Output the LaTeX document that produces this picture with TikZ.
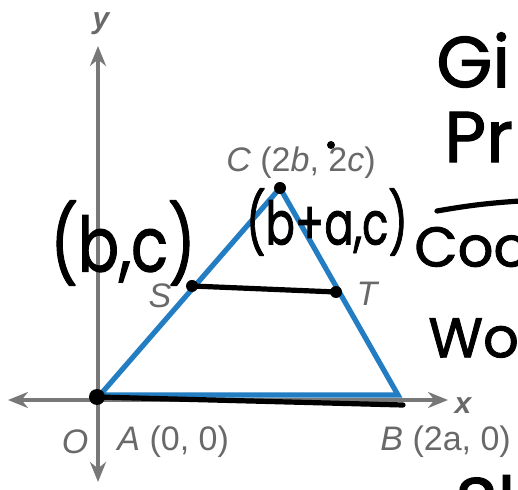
\documentclass[tikz,border=0pt]{standalone}
\usepackage{fontspec}
\setmainfont{Liberation Sans}
\newfontfamily\handfont[FakeBold=1.6]{Poppins}
\usetikzlibrary{arrows.meta}
\definecolor{axisgray}{RGB}{120,120,120}
\definecolor{labelgray}{RGB}{105,105,105}
\definecolor{triblue}{RGB}{35,125,195}
\tikzset{
  axisline/.style={axisgray,line width=2pt,{Stealth[length=10pt,width=8pt]}-{Stealth[length=10pt,width=8pt]}},
  lbl/.style={labelgray,inner sep=1pt,font=\fontsize{17}{17}\selectfont},
  hand/.style={black,inner sep=0pt,font=\handfont},
  ink/.style={black,line width=2.6pt,line cap=round},
  dotmark/.style={circle,fill=black,inner sep=0pt,minimum size=6pt}
}
\begin{document}
\begin{tikzpicture}[x=0.5pt,y=-0.5pt]
  \useasboundingbox (0,0) rectangle (518,490);
  \clip (0,0) rectangle (518,490);
  \fill[white] (0,0) rectangle (518,490);
  % axes
  \coordinate (ytop) at (98,46);
  \coordinate (ybot) at (98,482);
  \coordinate (xleft) at (8,400);
  \coordinate (xright) at (448,400);
  \draw[axisline] (ybot) -- (ytop);
  \draw[axisline] (xleft) -- (xright);
  \node[lbl,font=\fontsize{15}{15}\selectfont\itshape\bfseries] (ylab) at (101,24) {y};
  \node[lbl,font=\fontsize{15}{15}\selectfont\itshape\bfseries] (xlab) at (463,406) {x};
  % triangle
  \coordinate (O) at (100,395);
  \coordinate (B) at (398,395);
  \coordinate (C) at (280,188);
  \draw[triblue,line width=2.6pt,line join=miter] (O) -- (C) -- (B) -- cycle;
  % printed labels
  \node[lbl] (olab) at (75,442) {\itshape O};
  \node[lbl,anchor=west] (alab) at (115,442) {\itshape A\upshape\ (0, 0)};
  \node[lbl,anchor=west] (blab) at (378,442) {\itshape B\upshape\ (2a, 0)};
  \node[lbl,anchor=west] (clab) at (224,163) {\itshape C\upshape\ (2\itshape b\upshape, 2\itshape c\upshape)};
  \node[lbl,font=\fontsize{17}{17}\selectfont\itshape] (slab) at (160,296) {S};
  \node[lbl,font=\fontsize{17}{17}\selectfont\itshape] (tlab) at (367,294) {T};
  % handwritten marks
  \coordinate (S) at (192,286);
  \coordinate (T) at (336,292);
  \coordinate (Bink) at (403,405);
  \node[dotmark] (cdot) at (C) {};
  \node[dotmark,minimum size=4pt] (cdot2) at (331,145) {};
  \node[dotmark,minimum size=8pt] (odot) at (97,397) {};
  \draw[ink] (odot.center) -- (Bink);
  \draw[ink] (S) -- (T);
  \node[dotmark] (sdot) at (S) {};
  \node[dotmark] (tdot) at (T) {};
  \node[hand,font=\handfont\fontsize{38}{38}\selectfont,xscale=0.8,transform shape] (bc) at (123,243) {(b,c)};
  \node[hand,font=\handfont\fontsize{30}{30}\selectfont,xscale=0.72,transform shape] (bac) at (327,222) {(b+a,c)};
  % handwritten notes on the right
  \node[hand,anchor=west,font=\handfont\fontsize{36}{36}\selectfont] (given) at (436,60) {Gi};
  \node[hand,anchor=west,font=\handfont\fontsize{36}{36}\selectfont] (prove) at (444,137) {Pr};
  \coordinate (barl) at (437,211);
  \coordinate (barr) at (520,201);
  \draw[ink] (barl) to[bend left=3] (barr);
  \node[hand,anchor=west,font=\handfont\fontsize{28}{28}\selectfont] (coor) at (414,247) {Coor};
  \node[hand,anchor=west,font=\handfont\fontsize{28}{28}\selectfont] (wor) at (428,338) {Wor};
  \node[hand,anchor=west,font=\handfont\fontsize{36}{36}\selectfont] (sl) at (455,502) {Sl};
\end{tikzpicture}
\end{document}
